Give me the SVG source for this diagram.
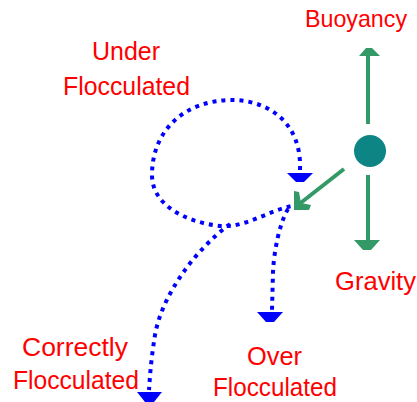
<svg xmlns="http://www.w3.org/2000/svg" width="417" height="402" viewBox="0 0 417 402">
<style>
.lbl{font-family:"Liberation Sans",Arial,sans-serif;font-size:26px;fill:#FF0000}
.dot{fill:none;stroke:#0000FF;stroke-width:4;stroke-dasharray:4 5}
.bh{fill:#0000FF}
.g{stroke:#339966;stroke-width:4;fill:none}
.gh{fill:#339966}
</style>
<rect width="417" height="402" fill="#FFFFFF"/>
<g id="connectors">
<path class="dot" d="M300,170 C302,120 265,100 232,100 C185,100 152,130 152,175 C152,205 185,222 220,226 C245,228 270,210 292,206"/>
<polygon class="bh" points="287,173 313,173 304,182 296,182"/>
<path class="dot" d="M288,209 C280,222 274,250 273,272 L272,310"/>
<polygon class="bh" points="257,312 283,312 274,322 266,322"/>
<path class="dot" d="M230,224 C195,250 162,295 155,335 C151,360 150,375 149,390"/>
<polygon class="bh" points="137,392 162,392 154,402 145,402"/>
<line class="g" x1="344" y1="169" x2="298" y2="205"/>
<polygon class="gh" points="294,191 299,192 301,203 311,205 309,210 294,210"/>
<line class="g" x1="368" y1="124" x2="368" y2="54"/>
<polygon class="gh" points="366,48 372,48 380,56 359,56"/>
<line class="g" x1="368" y1="175" x2="368" y2="242"/>
<polygon class="gh" points="354,240 380,240 371,250 363,250"/>
</g>
<g id="particle"><circle cx="370" cy="151" r="16" fill="#0E8585"/></g>
<g id="buoyancy"><text class="lbl" x="305" y="27" style="font-size:24px" textLength="102" lengthAdjust="spacingAndGlyphs">Buoyancy</text></g>
<g id="gravity"><text class="lbl" x="335" y="290" textLength="81" lengthAdjust="spacingAndGlyphs">Gravity</text></g>
<g id="under"><text class="lbl" x="92" y="60" textLength="68" lengthAdjust="spacingAndGlyphs">Under</text><text class="lbl" x="63" y="95" textLength="127" lengthAdjust="spacingAndGlyphs">Flocculated</text></g>
<g id="correctly"><text class="lbl" x="22" y="356" textLength="106" lengthAdjust="spacingAndGlyphs">Correctly</text><text class="lbl" x="13" y="389" textLength="126" lengthAdjust="spacingAndGlyphs">Flocculated</text></g>
<g id="over"><text class="lbl" x="247" y="365" textLength="55" lengthAdjust="spacingAndGlyphs">Over</text><text class="lbl" x="213" y="396" textLength="124" lengthAdjust="spacingAndGlyphs">Flocculated</text></g>
</svg>
